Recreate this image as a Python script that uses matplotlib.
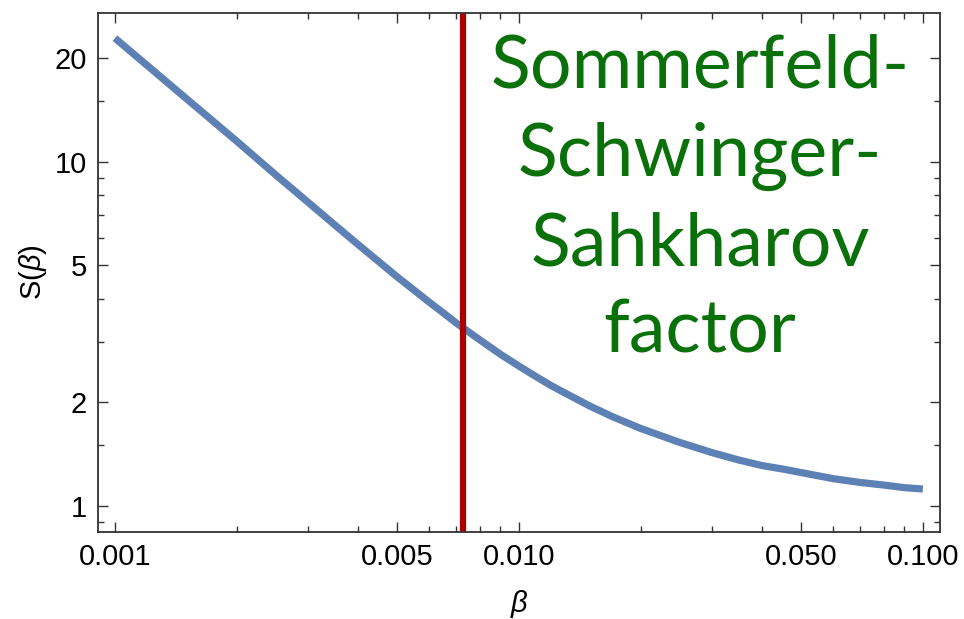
import matplotlib
matplotlib.use('Agg')
import matplotlib.pyplot as plt
from matplotlib.ticker import FixedLocator, NullFormatter

plt.rcParams['font.family'] = ['Liberation Sans', 'DejaVu Sans']
plt.rcParams['mathtext.fontset'] = 'custom'
plt.rcParams['mathtext.rm'] = 'Liberation Sans'
plt.rcParams['mathtext.it'] = 'Liberation Sans:italic'

# Werte
beta = [0.001, 0.0012, 0.0015, 0.002, 0.0025, 0.003, 0.0035, 0.004, 0.0045,
        0.005, 0.0055, 0.006, 0.0065, 0.007, 0.008, 0.009, 0.01, 0.011,
        0.012, 0.013, 0.015, 0.017, 0.02, 0.025, 0.03, 0.035, 0.04, 0.045,
        0.05, 0.06, 0.07, 0.08, 0.09, 0.1]
S = [22.9, 19.1, 15.3, 11.5, 9.17, 7.65, 6.56, 5.75, 5.13,
     4.63, 4.24, 3.91, 3.64, 3.40, 3.04, 2.76, 2.55, 2.38,
     2.24, 2.13, 1.95, 1.82, 1.68, 1.53, 1.43, 1.36, 1.31, 1.28,
     1.25, 1.20, 1.17, 1.15, 1.13, 1.12]
beta_marke = 0.00726

x_major = [0.001, 0.005, 0.01, 0.05, 0.1]
x_labels = ['0.001', '0.005', '0.010', '0.050', '0.100']
x_minor = [0.002, 0.003, 0.004, 0.006, 0.007, 0.008, 0.009,
           0.02, 0.03, 0.04, 0.06, 0.07, 0.08, 0.09]
y_major = [1, 2, 5, 10, 20]
y_labels = ['1', '2', '5', '10', '20']
y_minor = [0.9, 1.5, 3, 4, 6, 7, 8, 9, 15]

titel = 'Sommerfeld-\nSchwinger-\nSahkharov\nfactor'

fig = plt.figure(figsize=(9.64, 6.19), dpi=100)
ax = fig.add_axes([0.1017, 0.1406, 0.8733, 0.8384])

ax.plot(beta, S, color='#5e81b5', linewidth=5.2, solid_capstyle='butt')
ax.axvline(beta_marke, color='#aa0000', linewidth=4.5)

ax.set_xscale('log')
ax.set_yscale('log')
ax.set_xlim(0.000908, 0.1102)
ax.set_ylim(0.84, 27.1)

ax.xaxis.set_major_locator(FixedLocator(x_major))
ax.xaxis.set_minor_locator(FixedLocator(x_minor))
ax.set_xticklabels(x_labels)
ax.xaxis.set_minor_formatter(NullFormatter())
ax.yaxis.set_major_locator(FixedLocator(y_major))
ax.yaxis.set_minor_locator(FixedLocator(y_minor))
ax.set_yticklabels(y_labels)
ax.yaxis.set_minor_formatter(NullFormatter())

ax.tick_params(which='both', direction='in', top=True, right=True,
               labelsize=21, color='#333333', width=1.0)
ax.tick_params(which='major', length=7, pad=8)
ax.tick_params(which='minor', length=4)
for s in ax.spines.values():
    s.set_linewidth(1.3)
    s.set_color('#333333')

ax.set_xlabel(r'$\it{\beta}$', fontsize=21, labelpad=12)
ax.set_ylabel(r'S($\it{\beta}$)', fontsize=21, labelpad=4)

ax.text(0.715, 0.64, titel, transform=ax.transAxes, ha='center', va='center',
        fontsize=53, color='#0a700a', linespacing=1.38, family='Lato')

fig.savefig('out.png', dpi=100)
